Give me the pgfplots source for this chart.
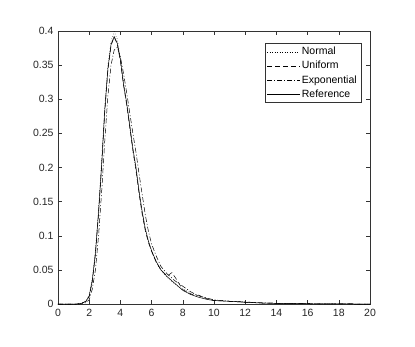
\documentclass[border=0pt]{standalone}
\usepackage{pgfplots}
\pgfplotsset{compat=1.18}
\usepackage{fontspec}
\setmainfont{Liberation Sans}

\begin{document}
\begin{tikzpicture}
\begin{axis}[
    scale only axis,
    width=312pt, height=273pt,
    xmin=0, xmax=20, ymin=0, ymax=0.4,
    xtick={0,2,...,20},
    ytick={0,0.05,...,0.4},
    scaled y ticks=false,
    yticklabel style={/pgf/number format/fixed, /pgf/number format/precision=2, xshift=-1pt},
    xticklabel style={yshift=-2pt},
    /pgf/number format/assume math mode=true,
    tick align=inside,
    major tick length=4pt,
    axis line style={black!80, line width=0.5pt},
    tick style={black!80, line width=0.5pt},
    tick label style={font=\fontsize{10.5}{12}\selectfont, text=black!85},
    legend style={at={(0.971,0.956)}, anchor=north east, draw=black!80,
        font=\fontsize{10.5}{12}\selectfont, inner sep=2pt, row sep=1pt,
        cells={anchor=west}},
    legend image post style={xscale=1.9},
    every axis plot/.append style={line width=0.5pt, black},
]
\addplot[dotted] coordinates {
(0,0)(1.2,0)(1.5,0.001)(1.8,0.005)(2.0,0.013)(2.2,0.037)(2.4,0.078)(2.6,0.14)(2.8,0.212)(3.0,0.29)(3.2,0.35)(3.4,0.385)(3.6,0.399)(3.8,0.388)(4.0,0.36)(4.2,0.325)(4.4,0.293)(4.6,0.258)(4.8,0.224)(5.0,0.195)(5.2,0.162)(5.4,0.133)(5.6,0.108)(5.8,0.091)(6.0,0.077)(6.3,0.061)(6.6,0.049)(7.0,0.039)(7.5,0.029)(8.0,0.022)(8.5,0.016)(9.0,0.013)(9.5,0.008)(10,0.006)(11,0.004)(12,0.003)(13,0.0015)(14,0.001)(15,0.0008)(16,0.0005)(17,0.0003)(18,0.0001)(19,0)(20,0)
};
\addplot[dash pattern=on 5pt off 3pt] coordinates {
(0,0)(1.2,0)(1.5,0.001)(1.8,0.004)(2.0,0.011)(2.2,0.033)(2.4,0.073)(2.6,0.132)(2.8,0.203)(3.0,0.282)(3.2,0.343)(3.4,0.379)(3.6,0.391)(3.8,0.381)(4.0,0.356)(4.2,0.321)(4.4,0.292)(4.6,0.259)(4.8,0.225)(5.0,0.196)(5.2,0.161)(5.4,0.131)(5.6,0.107)(5.8,0.09)(6.0,0.077)(6.3,0.061)(6.6,0.05)(7.0,0.041)(7.3,0.046)(7.6,0.036)(8.0,0.021)(8.5,0.015)(8.8,0.012)(9.0,0.013)(9.5,0.008)(10,0.005)(11,0.004)(12,0.0025)(13,0.0015)(14,0.001)(15,0.0007)(16,0.0004)(17,0.0002)(18,0.0001)(19,0)(20,0)
};
\addplot[dash pattern=on 5pt off 2pt on 1pt off 2pt] coordinates {
(0,0)(1.4,0)(1.7,0.001)(2.0,0.006)(2.2,0.022)(2.4,0.05)(2.6,0.1)(2.8,0.165)(3.0,0.24)(3.2,0.305)(3.4,0.35)(3.6,0.372)(3.8,0.376)(4.0,0.362)(4.2,0.338)(4.4,0.31)(4.6,0.28)(4.8,0.25)(5.0,0.222)(5.2,0.19)(5.4,0.16)(5.6,0.13)(5.8,0.106)(6.0,0.088)(6.3,0.07)(6.6,0.055)(7.0,0.044)(7.5,0.034)(8.0,0.026)(8.5,0.018)(9.0,0.012)(9.5,0.009)(10,0.006)(11,0.004)(12,0.003)(13,0.0017)(14,0.001)(15,0.0007)(16,0.0004)(17,0.0002)(18,0.0001)(19,0)(20,0)
};
\addplot[solid] coordinates {
(0,0)(1.2,0)(1.5,0.001)(1.8,0.004)(2.0,0.012)(2.2,0.035)(2.4,0.075)(2.6,0.135)(2.8,0.205)(3.0,0.285)(3.2,0.345)(3.4,0.38)(3.6,0.392)(3.8,0.382)(4.0,0.358)(4.2,0.322)(4.4,0.295)(4.6,0.262)(4.8,0.228)(5.0,0.2)(5.2,0.165)(5.4,0.135)(5.6,0.11)(5.8,0.092)(6.0,0.078)(6.3,0.062)(6.6,0.05)(7.0,0.04)(7.5,0.03)(8.0,0.02)(8.5,0.014)(9.0,0.01)(9.5,0.007)(10,0.005)(11,0.004)(12,0.0025)(13,0.0015)(14,0.001)(15,0.0007)(16,0.0004)(17,0.0002)(18,0.0001)(19,0)(20,0)
};
\legend{Normal, Uniform, Exponential, Reference}
\end{axis}
\useasboundingbox ([xshift=-58pt,yshift=-42pt]current axis.south west) rectangle ([xshift=45pt,yshift=31pt]current axis.north east);
\end{tikzpicture}
\end{document}
